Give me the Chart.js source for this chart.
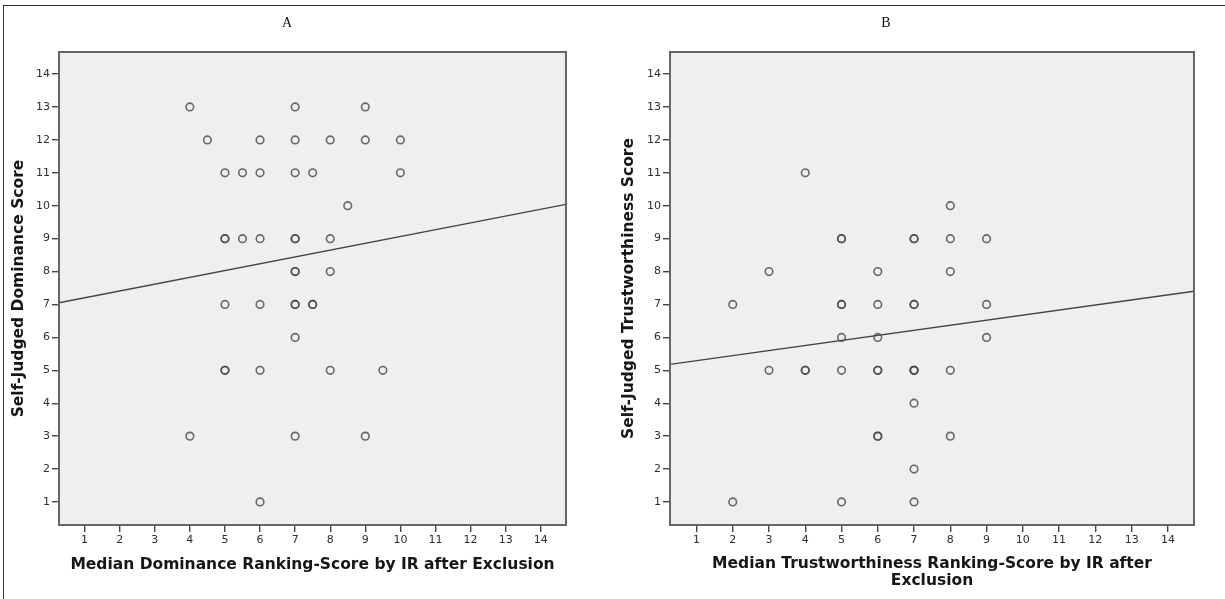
<!DOCTYPE html>
<html>
<head>
<meta charset="utf-8">
<script src="https://cdn.jsdelivr.net/npm/chart.js@4.4.1/dist/chart.umd.min.js"></script>
<style>
  html, body { margin: 0; padding: 0; background: #fff; }
  #page { position: relative; width: 1225px; height: 599px; overflow: hidden; }
  #frame { position: absolute; left: 3px; top: 5px; width: 1240px; height: 620px; border-top: 1px solid #333; border-left: 1px solid #333; }
  #chartA { position: absolute; left: 8px; top: 0; }
  #chartB { position: absolute; left: 578px; top: 0; }
</style>
</head>
<body>
<div id="page">
  <div id="frame"></div>
  <canvas id="chartA" width="592" height="599"></canvas>
  <canvas id="chartB" width="647" height="599"></canvas>
</div>
<script>
// tick labels shared by both panels
const tickValues = [1, 2, 3, 4, 5, 6, 7, 8, 9, 10, 11, 12, 13, 14];
const axisMin = 0.27;
const axisMaxX = 14.72;
const axisMaxY = 14.67;

// Panel A: dominance (repeated pairs = overlapping circles)
const dominanceX = [4, 7, 9, 4.5, 6, 7, 8, 9, 10, 5, 5.5, 6, 7, 7.5, 10, 8.5,
  5, 5, 5.5, 6, 7, 7, 8, 7, 7, 8, 5, 6, 7, 7, 7.5, 7.5, 7,
  5, 5, 6, 8, 9.5, 4, 7, 9, 6];
const dominanceY = [13, 13, 13, 12, 12, 12, 12, 12, 12, 11, 11, 11, 11, 11, 11, 10,
  9, 9, 9, 9, 9, 9, 9, 8, 8, 8, 7, 7, 7, 7, 7, 7, 6,
  5, 5, 5, 5, 5, 3, 3, 3, 1];
const dominanceFitX = [0.27, 14.72];
const dominanceFitY = [7.05, 10.04];

// Panel B: trustworthiness
const trustX = [4, 8, 5, 5, 7, 7, 8, 9, 3, 6, 8, 2, 5, 5, 6, 7, 7, 9, 5, 6, 9,
  3, 4, 4, 5, 6, 6, 7, 7, 7, 8, 7, 6, 6, 8, 7, 2, 5, 7];
const trustY = [11, 10, 9, 9, 9, 9, 9, 9, 8, 8, 8, 7, 7, 7, 7, 7, 7, 7, 6, 6, 6,
  5, 5, 5, 5, 5, 5, 5, 5, 5, 5, 4, 3, 3, 3, 2, 1, 1, 1];
const trustFitX = [0.27, 14.72];
const trustFitY = [5.18, 7.40];

Chart.defaults.font.family = "'DejaVu Sans', sans-serif";

const plotFrame = {
  id: 'plotFrame',
  beforeDraw(chart) {
    const { ctx, chartArea: a } = chart;
    ctx.save();
    ctx.fillStyle = '#efefef';
    ctx.fillRect(a.left, a.top, a.right - a.left, a.bottom - a.top);
    ctx.restore();
  },
  afterDatasetsDraw(chart) {
    const { ctx, chartArea: a } = chart;
    ctx.save();
    ctx.strokeStyle = '#666';
    ctx.lineWidth = 2;
    ctx.strokeRect(a.left, a.top, a.right - a.left, a.bottom - a.top);
    ctx.restore();
  }
};

function axis(opts) {
  return {
    type: 'linear',
    min: opts.min,
    max: opts.max,
    afterBuildTicks: s => { s.ticks = tickValues.map(v => ({ value: v })); },
    afterFit: opts.fit,
    grid: { drawOnChartArea: false, drawTicks: true, tickLength: 7, color: '#444', lineWidth: 1.4 },
    border: { display: false },
    ticks: { font: { size: 11 }, color: '#2e2e2e', padding: 2, maxRotation: 0, autoSkip: false },
    title: {
      display: true,
      text: opts.title,
      color: '#161616',
      font: { size: 15.5, weight: 'bold', lineHeight: 1.1 },
      padding: opts.titlePad
    }
  };
}

function makePanel(id, cfg) {
  const points = cfg.xs.map((x, i) => ({ x: x, y: cfg.ys[i] }));
  const fit = cfg.fitX.map((x, i) => ({ x: x, y: cfg.fitY[i] }));
  return new Chart(document.getElementById(id), {
    type: 'scatter',
    data: {
      datasets: [
        {
          type: 'line',
          data: fit,
          borderColor: '#444',
          borderWidth: 1.4,
          pointRadius: 0,
          fill: false,
          tension: 0
        },
        {
          data: points,
          pointRadius: 3.8,
          pointBorderWidth: 1.6,
          pointBackgroundColor: 'rgba(0,0,0,0)',
          pointBorderColor: 'rgba(70,70,70,0.8)'
        }
      ]
    },
    options: {
      responsive: false,
      animation: false,
      events: [],
      layout: { padding: { left: 0, right: cfg.padRight, top: 0, bottom: 0 } },
      plugins: {
        legend: { display: false },
        tooltip: { enabled: false },
        title: {
          display: true,
          text: cfg.label,
          color: '#111',
          font: { family: "'Liberation Serif', serif", size: 14, weight: 'normal' },
          padding: { top: 14.6, bottom: 20.6 }
        }
      },
      scales: {
        x: axis({
          min: axisMin, max: axisMaxX, title: cfg.xTitle,
          titlePad: { top: 0, bottom: cfg.xTitlePad },
          fit: s => { s.height = 74; }
        }),
        y: axis({
          min: 0.3, max: axisMaxY, title: cfg.yTitle,
          titlePad: { top: cfg.yTitlePad, bottom: 0 },
          fit: s => { s.width = cfg.yWidth; }
        })
      }
    },
    plugins: [plotFrame]
  });
}

makePanel('chartA', {
  label: 'A',
  xs: dominanceX, ys: dominanceY,
  fitX: dominanceFitX, fitY: dominanceFitY,
  xTitle: 'Median Dominance Ranking-Score by IR after Exclusion',
  yTitle: 'Self-Judged Dominance Score',
  xTitlePad: 25.5, yTitlePad: 2.5, yWidth: 51, padRight: 34
});

makePanel('chartB', {
  label: 'B',
  xs: trustX, ys: trustY,
  fitX: trustFitX, fitY: trustFitY,
  xTitle: ['Median Trustworthiness Ranking-Score by IR after', 'Exclusion'],
  yTitle: 'Self-Judged Trustworthiness Score',
  xTitlePad: 9.5, yTitlePad: 42.5, yWidth: 92, padRight: 31
});
</script>
</body>
</html>
